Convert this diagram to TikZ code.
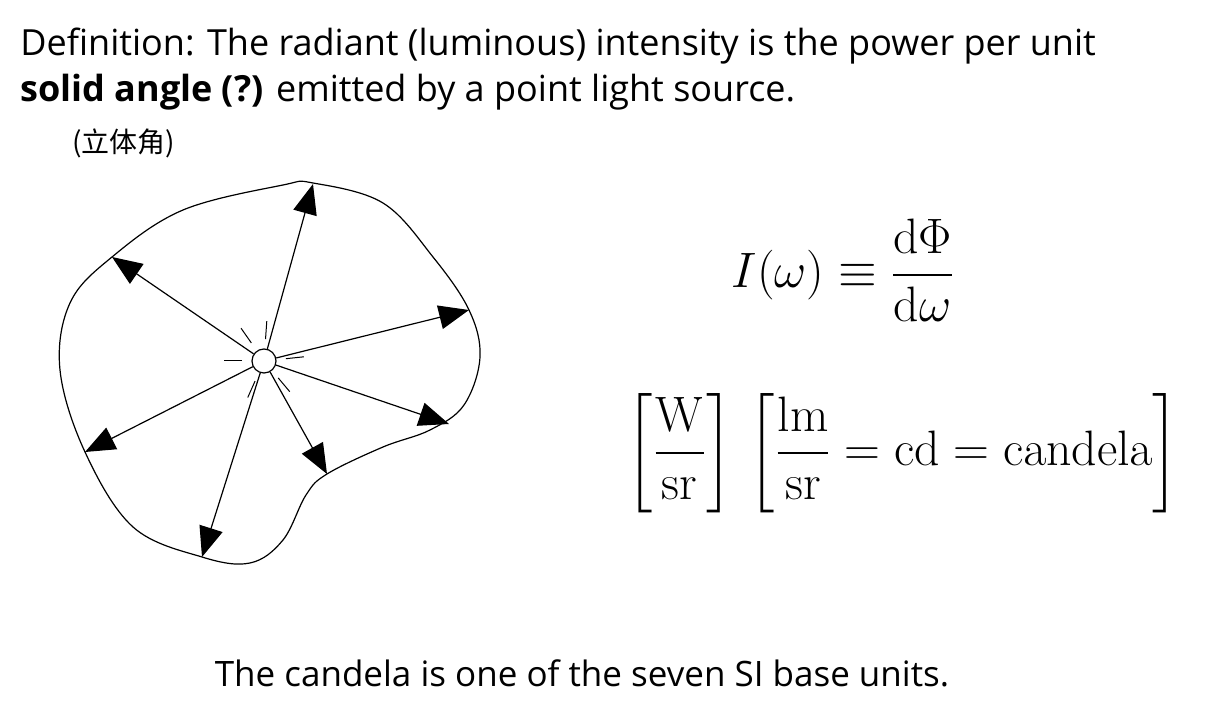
\documentclass[tikz,border=0pt]{standalone}
\usepackage{amsmath}
\usepackage[no-math]{fontspec}
\setmainfont{Open Sans}
\newfontfamily\cjk{Noto Sans CJK SC}
\newfontfamily\lmroman{Latin Modern Roman}
\usetikzlibrary{arrows.meta,
                positioning}
\tikzset{ray/.style =
   {draw,
    line width=0.6pt,
    -{Triangle[length=15pt,width=12pt]}}}
\tikzset{tick/.style =
   {draw,
    line width=0.5pt}}
\tikzset{eqn/.style =
   {inner sep=0pt,
    font=\lmroman\fontsize{23.5}{28}\selectfont}}
\begin{document}
\begin{tikzpicture}[x=0.5pt,y=-0.5pt]
    \useasboundingbox (0,0) rectangle (1211,726);

    % heading
    \node [anchor=north west, inner sep=0pt,
           font=\fontsize{18}{23}\selectfont,
           align=left] (title) at (20,28)
          {Definition: The radiant (luminous) intensity is the power per unit\\
           \textbf{solid angle (?)} emitted by a point light source.};
    \node [anchor=west, inner sep=0pt,
           font=\cjk\fontsize{14}{16}\selectfont] (cjk) at (72,143) {(立体角)};

    % surface around the source
    \draw [line width=0.6pt] plot [smooth cycle, tension=0.6] coordinates
       {(313,183) (383,203) (433,257) (469,310) (480,357) (464,405)
        (430,430) (383,447) (327,474) (306,495) (283,540) (250,563) (202,557)
        (133,527) (85,452) (60,370) (70,303) (112,257) (183,210) (283,185)};

    % source
    \node [circle, draw, line width=0.6pt, minimum size=12pt, inner sep=0pt]
          (src) at (264,361) {};

    % rays
    \foreach \tx/\ty [count=\i] in {313/184, 112/257, 469/310, 449/424,
                                    327/474, 202/557, 85/452}
        {\coordinate (tip\i) at (\tx,\ty);
         \draw [ray] (src) -- (tip\i);}

    % glints
    \foreach \ang in {114, 50, 180, -6, -125, -86}
        \draw [tick] ([shift={(\ang:22)}]src.center) -- ([shift={(\ang:40)}]src.center);

    % formulas
    \node [eqn] (intensity) at (843,270)
          {$I(\omega)\equiv\dfrac{\mathrm{d}\Phi}{\mathrm{d}\omega}$};
    \node [eqn] (units) at (903,453)
          {$\left[\dfrac{\mathrm{W}}{\mathrm{sr}}\right]\,
            \left[\dfrac{\mathrm{lm}}{\mathrm{sr}}=\mathrm{cd}=\mathrm{candela}\right]$};

    % footer
    \node [inner sep=0pt, font=\fontsize{17.5}{22}\selectfont]
          (footer) at (582,673) {The candela is one of the seven SI base units.};

\end{tikzpicture}
\end{document}
